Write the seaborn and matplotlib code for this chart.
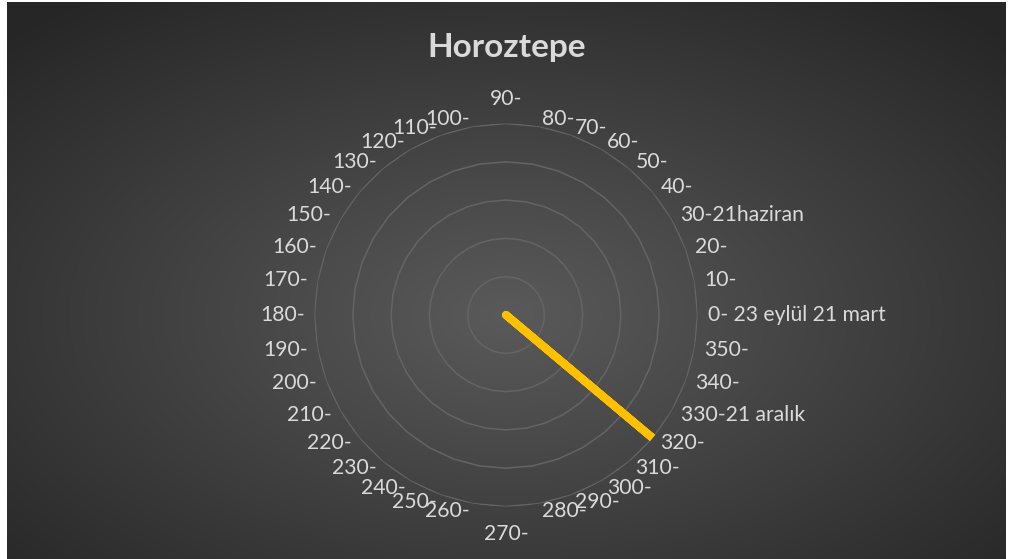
import numpy as np
import pandas as pd
import seaborn as sns
import matplotlib.pyplot as plt

# categories clockwise from the top, as in the original radar chart
categories = ['90-', '80-', '70-', '60-', '50-', '40-', '30-21haziran', '20-', '10-',
              '0- 23 eylül 21 mart', '350-', '340-', '330-21 aralık', '320-', '310-',
              '300-', '290-', '280-', '270-', '260-', '250-', '240-', '230-', '220-',
              '210-', '200-', '190-', '180-', '170-', '160-', '150-', '140-', '130-',
              '120-', '110-', '100-']
values = [0, 0, 0, 0, 0, 0, 0, 0, 0,
          0, 0, 0, 0, 5, 0,
          0, 0, 0, 0, 0, 0, 0, 0, 0,
          0, 0, 0, 0, 0, 0, 0, 0, 0,
          0, 0, 0]
rings = [1, 2, 3, 4, 5]
title = 'Horoztepe'

TEXT = '#dadada'
GRID = '#646464'
LINE = '#ffc000'

sns.set_theme(style='dark')
plt.rcParams['font.family'] = ['Lato', 'DejaVu Sans']

W, H, DPI = 1009, 559, 100
fig = plt.figure(figsize=(W / DPI, H / DPI), dpi=DPI, facecolor='white')

# dark radial gradient background
bg = fig.add_axes([7 / W, 0, 999 / W, 557 / H], zorder=0)
yy, xx = np.mgrid[0:557, 0:999]
dx = (xx - 499) / 500.0
dy = (yy - 313) / 280.0
d = np.clip(np.sqrt(dx ** 2 + dy ** 2) / 1.42, 0, 1)
shade = (0x5a - (0x5a - 0x26) * d) / 255.0
img = np.dstack([shade, shade, shade])
bg.imshow(img, aspect='auto', interpolation='bilinear')
bg.set_axis_off()

# radar axes
cx, cy, R = 506, 559 - 315, 191.5
ax = fig.add_axes([(cx - R) / W, (cy - R) / H, 2 * R / W, 2 * R / H],
                  projection='polar', zorder=1)
ax.set_facecolor('none')
ax.set_theta_zero_location('N')
ax.set_theta_direction(-1)
ax.set_ylim(0, 5)
ax.grid(False)
ax.set_xticks([])
ax.set_yticks([])
ax.spines['polar'].set_visible(False)

n = len(categories)
theta = np.arange(n) * 2 * np.pi / n
closed = np.append(theta, 2 * np.pi)

for r in rings:
    ax.plot(closed, [r] * (n + 1), color=GRID, lw=1.1, zorder=1)

df = pd.DataFrame({'theta': np.append(theta, 2 * np.pi),
                   'value': values + values[:1]})
sns.lineplot(data=df, x='theta', y='value', ax=ax, sort=False, estimator=None,
             color=LINE, lw=5.8, solid_capstyle='round', solid_joinstyle='round',
             zorder=3)
ax.set_xlabel('')
ax.set_ylabel('')

# category labels around the outer ring (overlaps near 100/110 etc. as in the original)
for t, lab in zip(theta, categories):
    math_ang = np.pi / 2 - t
    c, s = np.cos(math_ang), np.sin(math_ang)
    if abs(c) < 0.01:
        ha = 'center'
        va = 'bottom' if s > 0 else 'top'
        off = (0, 14 if s > 0 else -17)
    else:
        ha = 'left' if c > 0 else 'right'
        va = 'center'
        off = (max(abs(10 * c), 3) * np.sign(c), 8 * s)
    ax.annotate(lab, xy=(t, 5), xytext=off, textcoords='offset pixels',
                ha=ha, va=va, color=TEXT, fontsize=15.2, annotation_clip=False)

fig.text(507 / W, 1 - 47 / H, title, ha='center', va='center',
         color=TEXT, fontsize=24, fontweight='bold')

fig.savefig('out.png', dpi=DPI, facecolor='white')
